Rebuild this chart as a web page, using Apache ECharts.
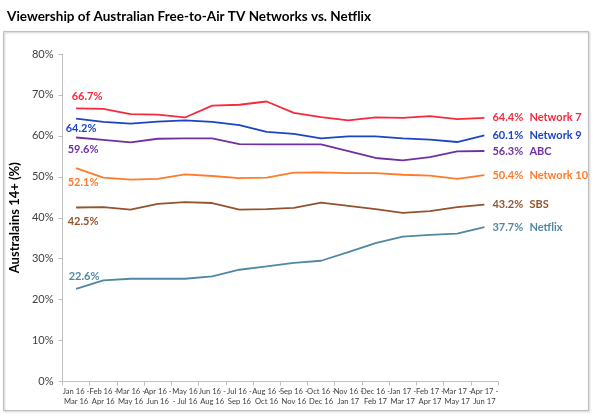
<!DOCTYPE html>
<html>
<head>
<meta charset="utf-8">
<style>
  html, body { margin: 0; padding: 0; background: #fff; }
  #chart { width: 595px; height: 417px; }
</style>
<script src="https://cdn.jsdelivr.net/npm/echarts@6/dist/echarts.min.js"></script>
</head>
<body>
<div id="chart"></div>
<script>
var categories = [
    'Jan 16 -\nMar 16', 'Feb 16 -\nApr 16', 'Mar 16 -\nMay 16', 'Apr 16 -\nJun 16',
    'May 16\n- Jul 16', 'Jun 16 -\nAug 16', 'Jul 16 -\nSep 16', 'Aug 16 -\nOct 16',
    'Sep 16 -\nNov 16', 'Oct 16 -\nDec 16', 'Nov 16 -\nJan 17', 'Dec 16 -\nFeb 17',
    'Jan 17 -\nMar 17', 'Feb 17 -\nApr 17', 'Mar 17 -\nMay 17', 'Apr 17 -\nJun 17'
];
var yTicks = [0, 10, 20, 30, 40, 50, 60, 70, 80];

var network7  = [66.7, 66.6, 65.3, 65.2, 64.5, 67.4, 67.6, 68.4, 65.6, 64.6, 63.8, 64.5, 64.4, 64.8, 64.1, 64.4];
var network9  = [64.2, 63.4, 63.0, 63.5, 63.8, 63.4, 62.6, 61.0, 60.5, 59.4, 59.9, 59.9, 59.4, 59.1, 58.5, 60.1];
var abc       = [59.6, 59.0, 58.4, 59.3, 59.4, 59.4, 58.0, 57.9, 57.9, 57.9, 56.3, 54.6, 54.0, 54.8, 56.2, 56.3];
var network10 = [52.1, 49.8, 49.3, 49.5, 50.6, 50.2, 49.7, 49.8, 51.0, 51.1, 50.9, 50.9, 50.5, 50.3, 49.5, 50.4];
var sbs       = [42.5, 42.6, 42.0, 43.4, 43.8, 43.6, 42.0, 42.1, 42.4, 43.7, 42.9, 42.1, 41.2, 41.6, 42.6, 43.2];
var netflix   = [22.6, 24.7, 25.1, 25.1, 25.1, 25.7, 27.3, 28.1, 29.0, 29.5, 31.6, 33.8, 35.4, 35.8, 36.1, 37.7];

var names  = ['Network 7', 'Network 9', 'ABC', 'Network 10', 'SBS', 'Netflix'];
var colors = ['#F52A3C', '#1C45C4', '#7030A0', '#FF7A29', '#94532F', '#4F88A3'];
var values = [network7, network9, abc, network10, sbs, netflix];
// offset of the first-point label
var startOffsets = [[11, -12], [5, 10], [7, 12], [7, 14], [7, 14], [8, -13]];

var FONT = 'Lato, "Liberation Sans", sans-serif';
var chart = echarts.init(document.getElementById('chart'));

var series = values.map(function (arr, k) {
    return {
        name: names[k],
        type: 'line',
        data: arr.map(function (v, i) {
            if (i === 0) {
                return {
                    value: v,
                    label: {
                        show: true, position: 'inside', offset: startOffsets[k],
                        formatter: v.toFixed(1) + '%'
                    }
                };
            }
            return v;
        }),
        symbol: 'circle',
        symbolSize: 1,
        showSymbol: true,
        itemStyle: { color: 'rgba(0,0,0,0)' },
        lineStyle: { color: colors[k], width: 1.8 },
        label: {
            show: false,
            color: colors[k], fontFamily: FONT, fontWeight: 'bold', fontSize: 11
        },
        endLabel: {
            show: true,
            distance: 8,
            formatter: '{v|' + arr[arr.length - 1].toFixed(1) + '%}{n|' + names[k] + '}',
            rich: {
                v: { color: colors[k], fontFamily: FONT, fontWeight: 'bold', fontSize: 11, width: 37 },
                n: { color: colors[k], fontFamily: FONT, fontWeight: 'bold', fontSize: 11 }
            }
        },
        emphasis: { disabled: true },
        animation: false
    };
});

var option = {
    backgroundColor: '#fff',
    animation: false,
    title: {
        text: 'Viewership of Australian Free-to-Air TV Networks vs. Netflix',
        left: 2, top: 5,
        textStyle: { fontFamily: FONT, fontWeight: 'bold', fontSize: 13.5, color: '#000' }
    },
    graphic: [{
        type: 'rect',
        shape: { x: 3.5, y: 31.5, width: 585, height: 379 },
        style: { fill: 'none', stroke: '#BFBFBF', lineWidth: 1, shadowBlur: 2, shadowColor: 'rgba(0,0,0,0.25)', shadowOffsetX: 1, shadowOffsetY: 1 },
        silent: true
    }],
    grid: { left: 54, right: 97, top: 54, bottom: 35.5 },
    xAxis: {
        type: 'category',
        data: categories,
        boundaryGap: true,
        axisLine: { lineStyle: { color: '#BFBFBF', width: 1 } },
        axisTick: { show: true, length: 4, alignWithLabel: false, lineStyle: { color: '#BFBFBF' } },
        axisLabel: {
            interval: 0, fontFamily: FONT, fontSize: 7.6, color: '#404040',
            margin: 5, lineHeight: 10
        }
    },
    yAxis: {
        type: 'value',
        min: yTicks[0], max: yTicks[yTicks.length - 1], interval: 10,
        name: 'Australains 14+ (%)',
        nameLocation: 'middle',
        nameRotate: 90,
        nameGap: 39,
        nameTextStyle: { fontFamily: FONT, fontWeight: 'bold', fontSize: 13, color: '#000' },
        axisLine: { show: true, lineStyle: { color: '#BFBFBF', width: 1 } },
        axisTick: { show: true, length: 4, lineStyle: { color: '#BFBFBF' } },
        splitLine: { show: false },
        axisLabel: {
            formatter: '{value}%', fontFamily: FONT, fontSize: 11, color: '#404040', margin: 9
        }
    },
    series: series
};
chart.setOption(option);
</script>
</body>
</html>
